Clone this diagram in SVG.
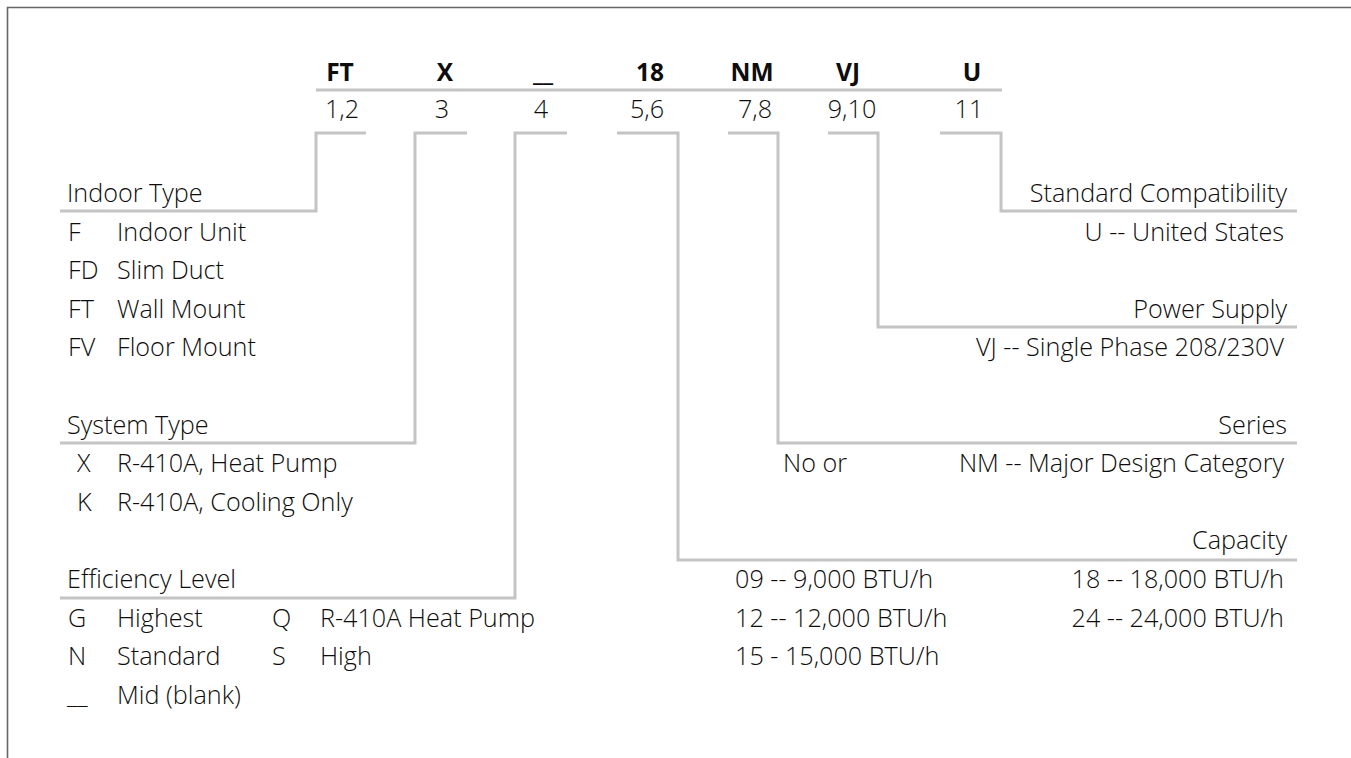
<svg xmlns="http://www.w3.org/2000/svg" width="1351" height="758" viewBox="0 0 1351 758">
<style>
  text { font-family: "Open Sans", "Noto Sans", "Liberation Sans", sans-serif; font-size: 25.2px; font-weight: 300; fill: #0d0d0d; }
  .b { font-weight: bold; font-size: 24.5px; }
  .m { text-anchor: middle; }
  .e { text-anchor: end; }
  .ln { fill: none; stroke: #c4c4c4; stroke-width: 3; }
  .frame { fill: none; stroke: #666; stroke-width: 1.6; }
</style>
<rect width="1351" height="758" fill="#fff"/>
<path class="frame" d="M7.5,758 V7.5 H1351"/>

<g id="header">
  <g id="seg-1-2"><text class="b m" x="340" y="81">FT</text><text class="m" x="342" y="118">1,2</text></g>
  <g id="seg-3"><text class="b m" x="445" y="81">X</text><text class="m" x="442" y="118">3</text></g>
  <g id="seg-4"><text class="b m" x="543" y="81">__</text><text class="m" x="541" y="118">4</text></g>
  <g id="seg-5-6"><text class="b m" x="650" y="81">18</text><text class="m" x="647" y="118">5,6</text></g>
  <g id="seg-7-8"><text class="b m" x="752" y="81">NM</text><text class="m" x="755" y="118">7,8</text></g>
  <g id="seg-9-10"><text class="b m" x="848" y="81">VJ</text><text class="m" x="852" y="118">9,10</text></g>
  <g id="seg-11"><text class="b m" x="972" y="81">U</text><text class="m" x="969" y="118">11</text></g>
  <line class="ln" x1="316" y1="90" x2="1002" y2="90"/>
</g>

<g id="connectors">
  <path class="ln" d="M366,133 H316 V211 H60"/>
  <path class="ln" d="M467,133 H415 V443 H60"/>
  <path class="ln" d="M567,133 H515 V598 H60"/>
  <path class="ln" d="M617,133 H678 V560 H1297"/>
  <path class="ln" d="M728,133 H778 V443 H1297"/>
  <path class="ln" d="M828,133 H878 V327 H1297"/>
  <path class="ln" d="M940,133 H1001 V211 H1297"/>
</g>

<g id="indoor-type">
  <text x="67" y="202">Indoor Type</text>
  <text x="68" y="240.6">F</text><text x="117" y="240.6">Indoor Unit</text>
  <text x="68" y="279.2">FD</text><text x="117" y="279.2">Slim Duct</text>
  <text x="68" y="317.8">FT</text><text x="117" y="317.8">Wall Mount</text>
  <text x="68" y="356.4">FV</text><text x="117" y="356.4">Floor Mount</text>
</g>

<g id="system-type">
  <text x="67" y="433.6">System Type</text>
  <text x="77" y="472.2">X</text><text x="117" y="472.2">R-410A, Heat Pump</text>
  <text x="77" y="510.8">K</text><text x="117" y="510.8">R-410A, Cooling Only</text>
</g>

<g id="efficiency-level">
  <text x="67" y="588">Efficiency Level</text>
  <text x="68" y="626.6">G</text><text x="117" y="626.6">Highest</text>
  <text x="272" y="626.6">Q</text><text x="320" y="626.6">R-410A Heat Pump</text>
  <text x="68" y="665.2">N</text><text x="117" y="665.2">Standard</text>
  <text x="272" y="665.2">S</text><text x="320" y="665.2">High</text>
  <text x="67" y="703.8">__</text><text x="117" y="703.8">Mid (blank)</text>
</g>

<g id="standard-compatibility">
  <text class="e" x="1287" y="202">Standard Compatibility</text>
  <text class="e" x="1284" y="240.6">U -- United States</text>
</g>

<g id="power-supply">
  <text class="e" x="1287" y="317.8">Power Supply</text>
  <text class="e" x="1284" y="356.4">VJ -- Single Phase 208/230V</text>
</g>

<g id="series">
  <text class="e" x="1287" y="433.6">Series</text>
  <text x="783" y="472.2">No or</text>
  <text class="e" x="1284" y="472.2">NM -- Major Design Category</text>
</g>

<g id="capacity">
  <text class="e" x="1287" y="549.4">Capacity</text>
  <text x="735" y="588">09 -- 9,000 BTU/h</text>
  <text class="e" x="1284" y="588">18 -- 18,000 BTU/h</text>
  <text x="735" y="626.6">12 -- 12,000 BTU/h</text>
  <text class="e" x="1284" y="626.6">24 -- 24,000 BTU/h</text>
  <text x="735" y="665.2">15 - 15,000 BTU/h</text>
</g>
</svg>
